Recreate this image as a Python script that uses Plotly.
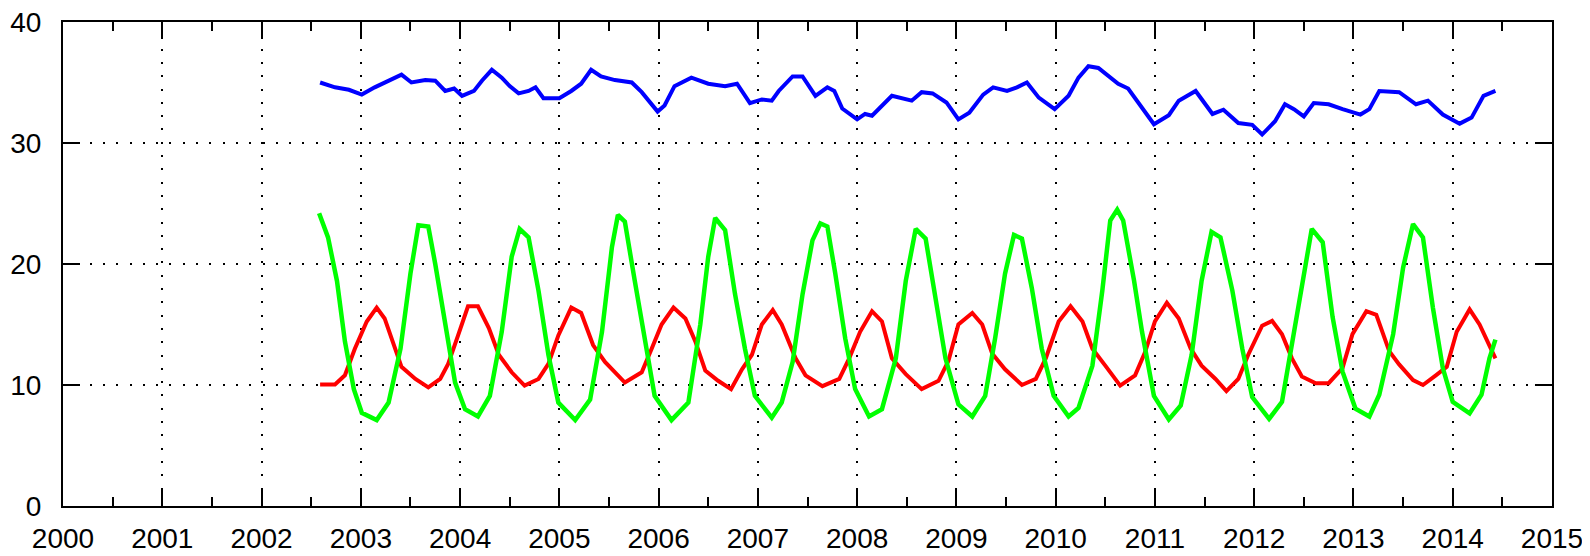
import plotly.graph_objects as go

# ---- data (decimal year, value) ----
blue_t = [2002.59, 2002.74, 2002.88, 2003.01, 2003.14, 2003.28, 2003.41, 2003.51, 2003.65, 2003.75,
          2003.85, 2003.94, 2004.02, 2004.14, 2004.22, 2004.32, 2004.42, 2004.50, 2004.59, 2004.69,
          2004.76, 2004.84, 2005.00, 2005.12, 2005.22, 2005.32, 2005.42, 2005.56, 2005.73, 2005.83,
          2005.91, 2005.99, 2006.06, 2006.16, 2006.33, 2006.50, 2006.67, 2006.79, 2006.92, 2007.04,
          2007.14, 2007.21, 2007.35, 2007.45, 2007.58, 2007.70, 2007.77, 2007.85, 2008.00, 2008.08,
          2008.15, 2008.35, 2008.55, 2008.65, 2008.76, 2008.90, 2009.02, 2009.13, 2009.27, 2009.37,
          2009.51, 2009.61, 2009.71, 2009.83, 2009.99, 2010.13, 2010.23, 2010.33, 2010.43, 2010.63,
          2010.73, 2010.87, 2010.99, 2011.14, 2011.24, 2011.41, 2011.58, 2011.69, 2011.84, 2011.98,
          2012.08, 2012.21, 2012.31, 2012.40, 2012.50, 2012.60, 2012.75, 2012.89, 2013.07, 2013.16,
          2013.26, 2013.46, 2013.63, 2013.75, 2013.90, 2014.07, 2014.19, 2014.31, 2014.43]
blue_v = [35.0, 34.6, 34.4, 34.0, 34.6, 35.15, 35.65, 35.0, 35.2, 35.15,
          34.3, 34.5, 33.9, 34.3, 35.15, 36.05, 35.4, 34.7, 34.1, 34.3,
          34.6, 33.7, 33.7, 34.3, 34.9, 36.05, 35.5, 35.2, 35.0, 34.2,
          33.35, 32.6, 33.1, 34.7, 35.4, 34.9, 34.7, 34.9, 33.3, 33.6,
          33.5, 34.3, 35.5, 35.5, 33.9, 34.6, 34.3, 32.85, 31.95, 32.4,
          32.25, 33.9, 33.5, 34.2, 34.1, 33.35, 31.95, 32.5, 34.0, 34.6,
          34.3, 34.6, 35.0, 33.75, 32.8, 33.9, 35.4, 36.35, 36.2, 34.9,
          34.5, 32.9, 31.55, 32.3, 33.5, 34.3, 32.4, 32.75, 31.65, 31.5,
          30.7, 31.8, 33.2, 32.8, 32.2, 33.3, 33.2, 32.8, 32.35, 32.8,
          34.3, 34.2, 33.2, 33.5, 32.35, 31.6, 32.1, 33.9, 34.3]

red_t = [2002.59, 2002.74, 2002.84, 2002.94, 2003.06, 2003.16, 2003.24, 2003.33, 2003.41, 2003.55,
         2003.68, 2003.80, 2003.88, 2003.98, 2004.08, 2004.18, 2004.29, 2004.39, 2004.52, 2004.65,
         2004.79, 2004.89, 2004.99, 2005.12, 2005.22, 2005.34, 2005.46, 2005.66, 2005.83, 2005.93,
         2006.03, 2006.15, 2006.27, 2006.37, 2006.47, 2006.60, 2006.73, 2006.84, 2006.94, 2007.04,
         2007.15, 2007.24, 2007.38, 2007.48, 2007.65, 2007.82, 2007.92, 2008.03, 2008.15, 2008.25,
         2008.35, 2008.49, 2008.65, 2008.82, 2008.92, 2009.02, 2009.16, 2009.26, 2009.36, 2009.49,
         2009.66, 2009.80, 2009.90, 2010.03, 2010.15, 2010.27, 2010.37, 2010.50, 2010.65, 2010.80,
         2010.90, 2011.00, 2011.12, 2011.24, 2011.36, 2011.47, 2011.61, 2011.72, 2011.84, 2011.94,
         2012.08, 2012.18, 2012.28, 2012.38, 2012.48, 2012.62, 2012.75, 2012.89, 2012.99, 2013.13,
         2013.23, 2013.36, 2013.46, 2013.60, 2013.70, 2013.83, 2013.94, 2014.04, 2014.17, 2014.27,
         2014.37, 2014.43]
red_v = [10.05, 10.05, 10.8, 13.0, 15.25, 16.4, 15.5, 13.3, 11.5, 10.5,
         9.8, 10.5, 11.75, 14.1, 16.5, 16.5, 14.7, 12.5, 11.05, 9.95,
         10.5, 11.75, 14.1, 16.4, 15.95, 13.3, 11.9, 10.2, 11.05, 13.0,
         15.0, 16.4, 15.5, 13.6, 11.2, 10.35, 9.66, 11.3, 12.5, 15.0,
         16.2, 15.0, 12.2, 10.8, 9.9, 10.5, 12.2, 14.4, 16.1, 15.25,
         12.2, 10.9, 9.66, 10.35, 12.0, 15.0, 15.95, 15.0, 12.6, 11.3,
         10.0, 10.5, 12.2, 15.25, 16.5, 15.25, 13.0, 11.6, 9.95, 10.8,
         12.7, 15.25, 16.8, 15.5, 13.0, 11.6, 10.5, 9.5, 10.5, 12.5,
         14.9, 15.3, 14.2, 12.2, 10.7, 10.15, 10.15, 11.4, 14.2, 16.1,
         15.8, 12.8, 11.7, 10.4, 10.0, 10.8, 11.5, 14.4, 16.25, 15.0,
         13.3, 12.2]

green_t = [2002.58, 2002.67, 2002.76, 2002.84, 2002.93, 2003.01, 2003.16, 2003.28, 2003.40, 2003.50,
           2003.58, 2003.68, 2003.75, 2003.85, 2003.95, 2004.05, 2004.18, 2004.30, 2004.42, 2004.52,
           2004.60, 2004.69, 2004.79, 2004.89, 2004.99, 2005.16, 2005.31, 2005.43, 2005.53, 2005.59,
           2005.66, 2005.76, 2005.86, 2005.96, 2006.13, 2006.30, 2006.42, 2006.50, 2006.57, 2006.67,
           2006.77, 2006.87, 2006.97, 2007.14, 2007.24, 2007.35, 2007.45, 2007.55, 2007.63, 2007.70,
           2007.78, 2007.88, 2007.98, 2008.12, 2008.25, 2008.39, 2008.49, 2008.59, 2008.69, 2008.79,
           2008.89, 2009.02, 2009.16, 2009.29, 2009.39, 2009.49, 2009.58, 2009.66, 2009.76, 2009.86,
           2009.98, 2010.13, 2010.23, 2010.37, 2010.47, 2010.55, 2010.62, 2010.68, 2010.79, 2010.87,
           2010.99, 2011.14, 2011.26, 2011.37, 2011.47, 2011.57, 2011.66, 2011.78, 2011.88, 2011.98,
           2012.15, 2012.28, 2012.38, 2012.48, 2012.58, 2012.69, 2012.79, 2012.89, 2013.02, 2013.16,
           2013.26, 2013.40, 2013.50, 2013.60, 2013.70, 2013.80, 2013.90, 2014.00, 2014.17, 2014.29,
           2014.37, 2014.43]
green_v = [24.2, 22.2, 18.6, 13.6, 9.66, 7.7, 7.1, 8.55, 13.0, 19.2,
           23.2, 23.1, 20.0, 15.0, 10.2, 8.0, 7.4, 9.1, 14.4, 20.6,
           22.9, 22.2, 17.8, 12.5, 8.55, 7.1, 8.8, 14.4, 21.4, 24.05,
           23.5, 18.6, 13.6, 9.1, 7.1, 8.55, 15.0, 20.6, 23.8, 22.8,
           17.5, 13.0, 9.1, 7.3, 8.55, 11.9, 17.5, 21.95, 23.35, 23.1,
           19.2, 13.85, 9.66, 7.4, 8.0, 12.2, 18.6, 22.9, 22.1, 17.2,
           12.2, 8.4, 7.4, 9.1, 13.85, 19.2, 22.4, 22.1, 18.0, 13.0,
           9.1, 7.4, 8.1, 11.6, 17.8, 23.6, 24.5, 23.6, 18.6, 14.4,
           9.1, 7.15, 8.3, 12.5, 18.6, 22.65, 22.2, 17.8, 13.0, 9.0,
           7.2, 8.6, 13.3, 18.3, 22.9, 21.8, 15.6, 11.1, 8.05, 7.4,
           9.2, 14.2, 19.7, 23.3, 22.2, 16.4, 11.4, 8.6, 7.65, 9.2,
           12.2, 13.75]

x_ticks = list(range(2000, 2016))
y_ticks = [0, 10, 20, 30, 40]

fig = go.Figure()
fig.add_trace(go.Scatter(x=blue_t, y=blue_v, mode="lines",
                         line=dict(color="#0000ff", width=4), showlegend=False))
fig.add_trace(go.Scatter(x=red_t, y=red_v, mode="lines",
                         line=dict(color="#ff0000", width=4), showlegend=False))
fig.add_trace(go.Scatter(x=green_t, y=green_v, mode="lines",
                         line=dict(color="#00ff00", width=4.5), showlegend=False))

axis_common = dict(
    showline=True, linecolor="black", linewidth=2, mirror="ticks",
    ticks="inside", tickcolor="black", tickwidth=2,
    showgrid=True, gridcolor="black", gridwidth=2, griddash="2px,11.3px",
    zeroline=False, automargin=False, ticklabeloverflow="allow",
    tickfont=dict(family="Liberation Sans", size=28, color="black"),
)

fig.update_xaxes(range=[2000, 2015], tickvals=x_ticks, ticktext=[str(v) for v in x_ticks],
                 ticklen=17, ticklabelstandoff=6,
                 minor=dict(dtick=0.5, tick0=2000, ticks="inside", ticklen=9,
                            tickcolor="black", tickwidth=2, showgrid=False),
                 **axis_common)
fig.update_yaxes(range=[0, 40], tickvals=y_ticks, ticktext=[str(v) for v in y_ticks],
                 ticklen=17, ticklabelstandoff=14, **axis_common)

fig.update_layout(
    width=1582, height=548,
    margin=dict(l=55, r=38, t=14, b=50),
    paper_bgcolor="white", plot_bgcolor="white",
)

fig.write_html("out.html")
